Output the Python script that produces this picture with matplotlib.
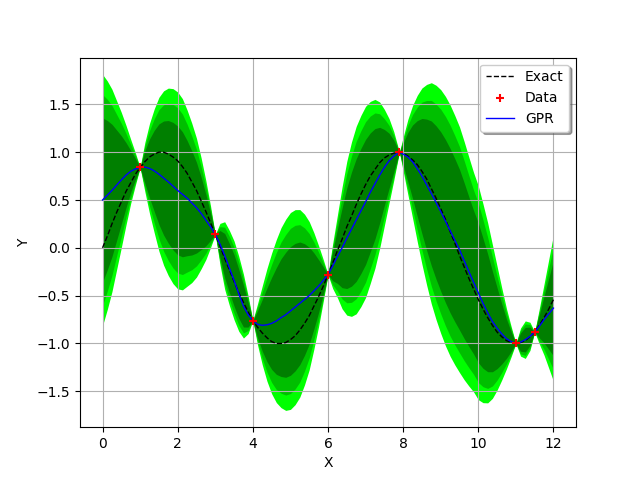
import numpy as np
import matplotlib
matplotlib.use('Agg')
import matplotlib.pyplot as plt

# x positions (data point at 7.9 included)
x = [0, 0.125, 0.25, 0.375, 0.5, 0.625, 0.75, 0.875, 1, 1.125, 1.25, 1.375, 1.5,
     1.625, 1.75, 1.875, 2, 2.125, 2.25, 2.375, 2.5, 2.625, 2.75, 2.875, 3,
     3.125, 3.25, 3.375, 3.5, 3.625, 3.75, 3.875, 4, 4.125, 4.25, 4.375, 4.5,
     4.625, 4.75, 4.875, 5, 5.125, 5.25, 5.375, 5.5, 5.625, 5.75, 5.875, 6,
     6.125, 6.25, 6.375, 6.5, 6.625, 6.75, 6.875, 7, 7.125, 7.25, 7.375, 7.5,
     7.625, 7.75, 7.9, 8, 8.125, 8.25, 8.375, 8.5, 8.625, 8.75, 8.875, 9,
     9.125, 9.25, 9.375, 9.5, 9.625, 9.75, 9.875, 10, 10.125, 10.25, 10.375, 10.5,
     10.625, 10.75, 10.875, 11, 11.125, 11.25, 11.375, 11.5, 11.625, 11.75, 11.875, 12]

# exact function (dashed black)
exact = [0.00, 0.12, 0.25, 0.37, 0.48, 0.59, 0.68, 0.77, 0.84, 0.90, 0.95, 0.98, 1.00,
         1.00, 0.98, 0.95, 0.91, 0.85, 0.78, 0.69, 0.60, 0.49, 0.38, 0.26, 0.14,
         0.02, -0.11, -0.23, -0.35, -0.47, -0.57, -0.67, -0.76, -0.83, -0.89, -0.94, -0.98,
         -1.00, -1.00, -0.99, -0.96, -0.92, -0.86, -0.79, -0.71, -0.61, -0.51, -0.40, -0.28,
         -0.16, -0.03, 0.09, 0.22, 0.33, 0.45, 0.56, 0.66, 0.75, 0.82, 0.89, 0.94,
         0.97, 0.99, 1.00, 0.99, 0.96, 0.92, 0.87, 0.80, 0.72, 0.62, 0.52, 0.41,
         0.30, 0.17, 0.05, -0.08, -0.20, -0.32, -0.43, -0.54, -0.64, -0.73, -0.81, -0.88,
         -0.93, -0.97, -0.99, -1.00, -0.99, -0.97, -0.93, -0.88, -0.81, -0.73, -0.64, -0.54]

# GPR mean (blue)
gpr_mean = [0.50, 0.55, 0.60, 0.655, 0.71, 0.76, 0.80, 0.825, 0.84, 0.845, 0.83, 0.805, 0.77,
            0.73, 0.69, 0.645, 0.60, 0.56, 0.52, 0.47, 0.42, 0.36, 0.29, 0.22, 0.14,
            0.04, -0.08, -0.21, -0.34, -0.48, -0.61, -0.70, -0.76, -0.80, -0.81, -0.805, -0.79,
            -0.765, -0.73, -0.70, -0.66, -0.62, -0.58, -0.54, -0.50, -0.45, -0.40, -0.34, -0.28,
            -0.19, -0.09, 0.00, 0.10, 0.195, 0.29, 0.385, 0.48, 0.58, 0.67, 0.76, 0.84,
            0.91, 0.96, 1.00, 0.98, 0.95, 0.90, 0.83, 0.75, 0.66, 0.57, 0.475, 0.38,
            0.28, 0.18, 0.08, -0.02, -0.135, -0.25, -0.36, -0.47, -0.58, -0.68, -0.77, -0.84,
            -0.90, -0.95, -0.98, -1.00, -0.985, -0.96, -0.925, -0.88, -0.82, -0.75, -0.69, -0.63]

# GPR standard deviation
gpr_std = [0.67, 0.61, 0.54, 0.45, 0.36, 0.265, 0.17, 0.085, 0.00, 0.13, 0.24, 0.33, 0.41,
           0.465, 0.50, 0.52, 0.525, 0.51, 0.47, 0.425, 0.37, 0.295, 0.21, 0.11, 0.00,
           0.11, 0.18, 0.20, 0.21, 0.20, 0.17, 0.10, 0.00, 0.11, 0.21, 0.30, 0.375,
           0.435, 0.48, 0.51, 0.525, 0.52, 0.50, 0.455, 0.395, 0.31, 0.215, 0.11, 0.00,
           0.12, 0.22, 0.325, 0.41, 0.465, 0.50, 0.51, 0.51, 0.485, 0.45, 0.39, 0.31,
           0.225, 0.13, 0.00, 0.09, 0.20, 0.30, 0.39, 0.47, 0.535, 0.59, 0.625, 0.65,
           0.665, 0.67, 0.665, 0.655, 0.635, 0.61, 0.585, 0.57, 0.53, 0.48, 0.41, 0.33,
           0.245, 0.16, 0.08, 0.00, 0.075, 0.10, 0.075, 0.00, 0.095, 0.19, 0.29, 0.39]

# observations
x_data = [1, 3, 4, 6, 7.9, 11, 11.5]
y_data = [0.84, 0.14, -0.76, -0.28, 1.00, -1.00, -0.88]

# confidence levels 95%, 90%, 80%
z_levels = [1.96, 1.645, 1.2816]
band_colors = ['#00ff00', '#00bf00', '#007f00']

x = np.array(x)
mean = np.array(gpr_mean)
std = np.array(gpr_std)

fig = plt.figure(figsize=(6.4, 4.8), dpi=100)
for z, c in zip(z_levels, band_colors):
    plt.fill_between(x, mean - z * std, mean + z * std, color=c, linewidth=0)

plt.plot(x, exact, 'k--', lw=1, label='Exact')
plt.scatter(x_data, y_data, marker='+', color='red', label='Data', zorder=3)
plt.plot(x, mean, 'b-', lw=1, label='GPR')

plt.xlabel('X')
plt.ylabel('Y')
plt.grid(True)
plt.legend(loc='upper right', shadow=True)

plt.savefig('out.png', dpi=100)
